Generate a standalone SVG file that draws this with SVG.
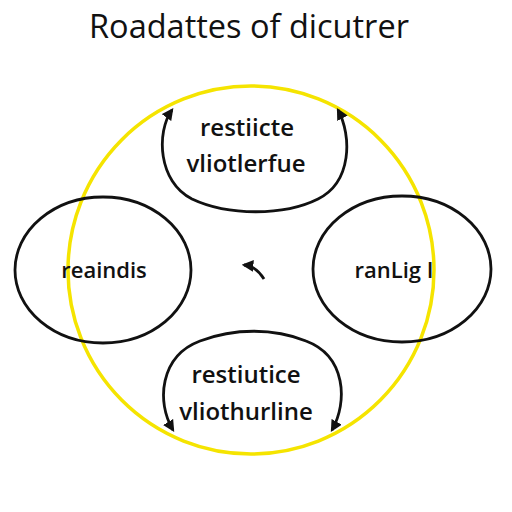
<svg xmlns="http://www.w3.org/2000/svg" width="512" height="512" viewBox="0 0 512 512">
<style>
.t{font-family:"Open Sans","DejaVu Sans",sans-serif;font-weight:600;fill:#111;text-anchor:middle}
.n{fill:none;stroke:#111;stroke-width:2.8}
</style>
<defs>
<marker id="ah" viewBox="0 0 10 10" refX="8" refY="5" markerWidth="4.2" markerHeight="4.2" orient="auto-start-reverse" markerUnits="strokeWidth">
<path d="M0,0 L10,5 L0,10 z" fill="#111"/>
</marker>
</defs>
<rect width="512" height="512" fill="#fff"/>
<text class="t" x="249" y="38" font-size="32.5" style="font-weight:400">Roadattes of dicutrer</text>
<g id="ring"><ellipse cx="251" cy="270" rx="183" ry="184" fill="none" stroke="#f5e400" stroke-width="3.5"/></g>
<g id="connectors">
<path class="n" d="M244,265 Q256,266 264,279" marker-start="url(#ah)"/>
</g>
<g id="top">
<path class="n" d="M172,110 C156,132 158,182 192,199 C228,216 284,216 318,199 C352,182 352,136 338,110" marker-start="url(#ah)" marker-end="url(#ah)"/>
<text class="t" x="247" y="136" font-size="24">restiicte</text>
<text class="t" x="246" y="172" font-size="24">vliotlerfue</text>
</g>
<g id="left">
<ellipse class="n" cx="103" cy="270" rx="88" ry="73"/>
<text class="t" x="104" y="278" font-size="22">reaindis</text>
</g>
<g id="right">
<ellipse class="n" cx="402" cy="269" rx="89" ry="73"/>
<text class="t" x="394" y="278" font-size="22">ranLig I</text>
</g>
<g id="bottom">
<path class="n" d="M173,430 C156,402 160,356 200,341 C234,328 274,328 306,341 C346,356 348,402 332,430" marker-start="url(#ah)" marker-end="url(#ah)"/>
<text class="t" x="246" y="383" font-size="24">restiutice</text>
<text class="t" x="246" y="420" font-size="24">vliothurline</text>
</g>
</svg>
